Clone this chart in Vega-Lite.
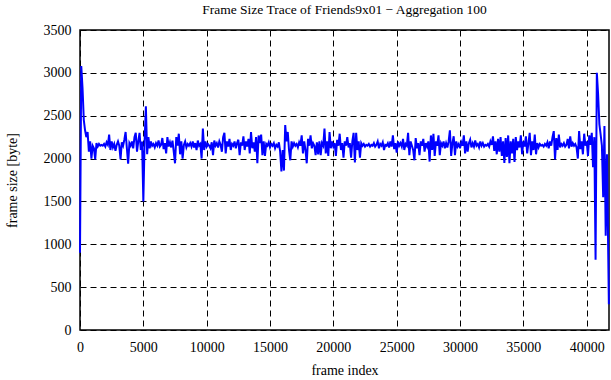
{
  "$schema": "https://vega.github.io/schema/vega-lite/v6.json",
  "width": 529,
  "height": 300,
  "autosize": {"type": "none"},
  "padding": {"left": 80, "top": 30, "right": 2, "bottom": 50},
  "background": "white",
  "config": {
    "font": "Liberation Serif",
    "view": {"stroke": "black", "strokeWidth": 1.5},
    "axis": {
      "labelFont": "Liberation Serif",
      "titleFont": "Liberation Serif",
      "labelFontSize": 14,
      "titleFontSize": 14,
      "labelColor": "black",
      "titleColor": "black",
      "titleFontWeight": "normal",
      "domain": false,
      "ticks": false,
      "grid": true,
      "gridColor": "black",
      "gridDash": [6, 4],
      "gridWidth": 1,
      "gridOpacity": 1
    }
  },
  "title": {
    "text": "Frame Size Trace of Friends9x01 − Aggregation 100",
    "font": "Liberation Serif",
    "fontSize": 13.5,
    "fontWeight": "normal",
    "color": "black",
    "anchor": "middle",
    "offset": 7
  },
  "data": {
    "values": [
{"i":0,"s":900},{"i":100,"s":3080},{"i":200,"s":2820},{"i":300,"s":2450},{"i":400,"s":2330},{"i":500,"s":2250},{"i":600,"s":2310},{"i":700,"s":2080},{"i":800,"s":2200},{"i":900,"s":2000},
{"i":1000,"s":2150},{"i":1100,"s":2120},{"i":1200,"s":1990},{"i":1300,"s":2180},{"i":1400,"s":2140},{"i":1500,"s":2170},{"i":1600,"s":2150},{"i":1700,"s":2160},{"i":1800,"s":2150},{"i":1900,"s":2170},
{"i":2000,"s":2140},{"i":2100,"s":2190},{"i":2200,"s":2160},{"i":2300,"s":2280},{"i":2400,"s":2100},{"i":2500,"s":2200},{"i":2600,"s":2130},{"i":2700,"s":2170},{"i":2800,"s":2090},{"i":2900,"s":2160},
{"i":3000,"s":2200},{"i":3100,"s":2150},{"i":3200,"s":1990},{"i":3300,"s":2190},{"i":3400,"s":2150},{"i":3500,"s":2220},{"i":3600,"s":2310},{"i":3700,"s":2120},{"i":3800,"s":1940},{"i":3900,"s":2180},
{"i":4000,"s":2150},{"i":4100,"s":2200},{"i":4200,"s":2120},{"i":4300,"s":2250},{"i":4400,"s":2300},{"i":4500,"s":2080},{"i":4600,"s":2200},{"i":4700,"s":2300},{"i":4800,"s":2100},{"i":4900,"s":2200},
{"i":5000,"s":1500},{"i":5100,"s":2200},{"i":5200,"s":2610},{"i":5300,"s":2050},{"i":5400,"s":2250},{"i":5500,"s":2120},{"i":5600,"s":2200},{"i":5700,"s":2150},{"i":5800,"s":2170},{"i":5900,"s":2130},
{"i":6000,"s":2180},{"i":6100,"s":2150},{"i":6200,"s":2210},{"i":6300,"s":2140},{"i":6400,"s":2160},{"i":6500,"s":2240},{"i":6600,"s":2110},{"i":6700,"s":2180},{"i":6800,"s":2060},{"i":6900,"s":2250},
{"i":7000,"s":2140},{"i":7100,"s":2190},{"i":7200,"s":2130},{"i":7300,"s":2210},{"i":7400,"s":2080},{"i":7500,"s":1945},{"i":7600,"s":2250},{"i":7700,"s":2150},{"i":7800,"s":2290},{"i":7900,"s":2050},
{"i":8000,"s":2200},{"i":8100,"s":2000},{"i":8200,"s":2160},{"i":8300,"s":2200},{"i":8400,"s":2130},{"i":8500,"s":2170},{"i":8600,"s":2150},{"i":8700,"s":2180},{"i":8800,"s":2140},{"i":8900,"s":2200},
{"i":9000,"s":2130},{"i":9100,"s":2180},{"i":9200,"s":2100},{"i":9300,"s":2210},{"i":9400,"s":2150},{"i":9500,"s":2170},{"i":9600,"s":2000},{"i":9700,"s":2350},{"i":9800,"s":2100},{"i":9900,"s":2200},
{"i":10000,"s":2140},{"i":10100,"s":2170},{"i":10200,"s":2150},{"i":10300,"s":2120},{"i":10400,"s":2190},{"i":10500,"s":2040},{"i":10600,"s":2210},{"i":10700,"s":2150},{"i":10800,"s":2180},{"i":10900,"s":2130},
{"i":11000,"s":2200},{"i":11100,"s":2160},{"i":11200,"s":2080},{"i":11300,"s":2250},{"i":11400,"s":2300},{"i":11500,"s":2060},{"i":11600,"s":2200},{"i":11700,"s":2140},{"i":11800,"s":2230},{"i":11900,"s":2100},
{"i":12000,"s":2170},{"i":12100,"s":2150},{"i":12200,"s":2200},{"i":12300,"s":2120},{"i":12400,"s":2180},{"i":12500,"s":2220},{"i":12600,"s":2040},{"i":12700,"s":2190},{"i":12800,"s":2150},{"i":12900,"s":2260},
{"i":13000,"s":2100},{"i":13100,"s":2200},{"i":13200,"s":2140},{"i":13300,"s":2230},{"i":13400,"s":2060},{"i":13500,"s":2310},{"i":13600,"s":2120},{"i":13700,"s":2190},{"i":13800,"s":2080},{"i":13900,"s":2250},
{"i":14000,"s":1945},{"i":14100,"s":2270},{"i":14200,"s":2180},{"i":14300,"s":2280},{"i":14400,"s":2040},{"i":14500,"s":2200},{"i":14600,"s":2030},{"i":14700,"s":2170},{"i":14800,"s":2150},{"i":14900,"s":2190},
{"i":15000,"s":2130},{"i":15100,"s":2170},{"i":15200,"s":2150},{"i":15300,"s":2180},{"i":15400,"s":2120},{"i":15500,"s":2160},{"i":15600,"s":2140},{"i":15700,"s":2190},{"i":15800,"s":2080},{"i":15900,"s":1850},
{"i":16000,"s":2100},{"i":16100,"s":1860},{"i":16200,"s":2390},{"i":16300,"s":2200},{"i":16400,"s":2310},{"i":16500,"s":2100},{"i":16600,"s":1980},{"i":16700,"s":2200},{"i":16800,"s":2140},{"i":16900,"s":2180},
{"i":17000,"s":2150},{"i":17100,"s":2170},{"i":17200,"s":2130},{"i":17300,"s":2190},{"i":17400,"s":2150},{"i":17500,"s":2270},{"i":17600,"s":2060},{"i":17700,"s":2200},{"i":17800,"s":2100},{"i":17900,"s":1945},
{"i":18000,"s":2230},{"i":18100,"s":2150},{"i":18200,"s":2270},{"i":18300,"s":2120},{"i":18400,"s":2180},{"i":18500,"s":2150},{"i":18600,"s":2040},{"i":18700,"s":2190},{"i":18800,"s":2050},{"i":18900,"s":2200},
{"i":19000,"s":2040},{"i":19100,"s":2180},{"i":19200,"s":2150},{"i":19300,"s":2350},{"i":19400,"s":2060},{"i":19500,"s":2200},{"i":19600,"s":2030},{"i":19700,"s":2310},{"i":19800,"s":2120},{"i":19900,"s":2200},
{"i":20000,"s":2140},{"i":20100,"s":2180},{"i":20200,"s":2030},{"i":20300,"s":2220},{"i":20400,"s":2150},{"i":20500,"s":2290},{"i":20600,"s":2100},{"i":20700,"s":2180},{"i":20800,"s":2010},{"i":20900,"s":2200},
{"i":21000,"s":2150},{"i":21100,"s":2250},{"i":21200,"s":2130},{"i":21300,"s":2180},{"i":21400,"s":2010},{"i":21500,"s":2200},{"i":21600,"s":2300},{"i":21700,"s":1955},{"i":21800,"s":2300},{"i":21900,"s":2100},
{"i":22000,"s":2200},{"i":22100,"s":2010},{"i":22200,"s":2180},{"i":22300,"s":2150},{"i":22400,"s":2170},{"i":22500,"s":2140},{"i":22600,"s":2160},{"i":22700,"s":2150},{"i":22800,"s":2170},{"i":22900,"s":2140},
{"i":23000,"s":2160},{"i":23100,"s":2150},{"i":23200,"s":2180},{"i":23300,"s":2140},{"i":23400,"s":2160},{"i":23500,"s":2200},{"i":23600,"s":2120},{"i":23700,"s":2170},{"i":23800,"s":2150},{"i":23900,"s":2190},
{"i":24000,"s":2100},{"i":24100,"s":2160},{"i":24200,"s":2150},{"i":24300,"s":2180},{"i":24400,"s":2130},{"i":24500,"s":2200},{"i":24600,"s":2140},{"i":24700,"s":2270},{"i":24800,"s":2110},{"i":24900,"s":2180},
{"i":25000,"s":2070},{"i":25100,"s":2200},{"i":25200,"s":2150},{"i":25300,"s":2180},{"i":25400,"s":2140},{"i":25500,"s":2230},{"i":25600,"s":2100},{"i":25700,"s":2170},{"i":25800,"s":2150},{"i":25900,"s":2300},
{"i":26000,"s":2040},{"i":26100,"s":2200},{"i":26200,"s":2150},{"i":26300,"s":2100},{"i":26400,"s":1980},{"i":26500,"s":2240},{"i":26600,"s":2120},{"i":26700,"s":2180},{"i":26800,"s":2040},{"i":26900,"s":2200},
{"i":27000,"s":2150},{"i":27100,"s":2230},{"i":27200,"s":2080},{"i":27300,"s":2180},{"i":27400,"s":2140},{"i":27500,"s":2200},{"i":27600,"s":1965},{"i":27700,"s":2270},{"i":27800,"s":2100},{"i":27900,"s":2290},
{"i":28000,"s":2030},{"i":28100,"s":2200},{"i":28200,"s":2150},{"i":28300,"s":2270},{"i":28400,"s":2040},{"i":28500,"s":2180},{"i":28600,"s":2150},{"i":28700,"s":2200},{"i":28800,"s":2120},{"i":28900,"s":2180},
{"i":29000,"s":2130},{"i":29100,"s":2200},{"i":29200,"s":2330},{"i":29300,"s":2030},{"i":29400,"s":2180},{"i":29500,"s":2260},{"i":29600,"s":2040},{"i":29700,"s":2200},{"i":29800,"s":2140},{"i":29900,"s":2170},
{"i":30000,"s":2120},{"i":30100,"s":2190},{"i":30200,"s":2150},{"i":30300,"s":2270},{"i":30400,"s":2060},{"i":30500,"s":2200},{"i":30600,"s":2080},{"i":30700,"s":2180},{"i":30800,"s":2220},{"i":30900,"s":2130},
{"i":31000,"s":2180},{"i":31100,"s":2140},{"i":31200,"s":2210},{"i":31300,"s":2150},{"i":31400,"s":2170},{"i":31500,"s":2130},{"i":31600,"s":2200},{"i":31700,"s":2150},{"i":31800,"s":2180},{"i":31900,"s":2140},
{"i":32000,"s":2160},{"i":32100,"s":2150},{"i":32200,"s":2170},{"i":32300,"s":2140},{"i":32400,"s":2200},{"i":32500,"s":2160},{"i":32600,"s":2260},{"i":32700,"s":2090},{"i":32800,"s":2200},{"i":32900,"s":2050},
{"i":33000,"s":2230},{"i":33100,"s":2080},{"i":33200,"s":2250},{"i":33300,"s":2030},{"i":33400,"s":2200},{"i":33500,"s":1950},{"i":33600,"s":2240},{"i":33700,"s":2020},{"i":33800,"s":2270},{"i":33900,"s":1945},
{"i":34000,"s":2200},{"i":34100,"s":2060},{"i":34200,"s":2230},{"i":34300,"s":1960},{"i":34400,"s":2250},{"i":34500,"s":2100},{"i":34600,"s":2200},{"i":34700,"s":2130},{"i":34800,"s":2270},{"i":34900,"s":2050},
{"i":35000,"s":2200},{"i":35100,"s":2140},{"i":35200,"s":2260},{"i":35300,"s":2060},{"i":35400,"s":2180},{"i":35500,"s":2300},{"i":35600,"s":2040},{"i":35700,"s":2200},{"i":35800,"s":2100},{"i":35900,"s":2280},
{"i":36000,"s":2050},{"i":36100,"s":2180},{"i":36200,"s":2130},{"i":36300,"s":2170},{"i":36400,"s":2150},{"i":36500,"s":2160},{"i":36600,"s":2140},{"i":36700,"s":2170},{"i":36800,"s":2150},{"i":36900,"s":2190},
{"i":37000,"s":2120},{"i":37100,"s":2200},{"i":37200,"s":2150},{"i":37300,"s":2250},{"i":37400,"s":2320},{"i":37500,"s":1990},{"i":37600,"s":2240},{"i":37700,"s":2100},{"i":37800,"s":2280},{"i":37900,"s":2130},
{"i":38000,"s":2170},{"i":38100,"s":2150},{"i":38200,"s":2180},{"i":38300,"s":2140},{"i":38400,"s":2160},{"i":38500,"s":2230},{"i":38600,"s":2120},{"i":38700,"s":2260},{"i":38800,"s":2140},{"i":38900,"s":2180},
{"i":39000,"s":2150},{"i":39100,"s":2170},{"i":39200,"s":2130},{"i":39300,"s":2000},{"i":39400,"s":2320},{"i":39500,"s":2110},{"i":39600,"s":2200},{"i":39700,"s":2050},{"i":39800,"s":2290},{"i":39900,"s":2150},
{"i":40000,"s":2200},{"i":40100,"s":2030},{"i":40200,"s":2270},{"i":40300,"s":2160},{"i":40400,"s":2300},{"i":40500,"s":1900},{"i":40600,"s":2250},{"i":40700,"s":820},{"i":40800,"s":3000},{"i":40900,"s":2750},
{"i":41000,"s":2400},{"i":41100,"s":2280},{"i":41200,"s":2150},{"i":41300,"s":1550},{"i":41400,"s":2380},{"i":41500,"s":1100},{"i":41600,"s":2050},{"i":41750,"s":300}
    ]
  },
  "mark": {"type": "line", "color": "#0000ff", "strokeWidth": 2, "clip": false},
  "encoding": {
    "x": {
      "field": "i",
      "type": "quantitative",
      "title": "frame index",
      "scale": {"domain": [0, 41760], "nice": false, "zero": false},
      "axis": {"values": [0, 5000, 10000, 15000, 20000, 25000, 30000, 35000, 40000], "format": "d", "labelPadding": 10, "titlePadding": 9, "labelFlush": false}
    },
    "y": {
      "field": "s",
      "type": "quantitative",
      "title": "frame size [byte]",
      "scale": {"domain": [0, 3500], "nice": false},
      "axis": {"values": [0, 500, 1000, 1500, 2000, 2500, 3000, 3500], "format": "d", "labelPadding": 9, "titlePadding": 24}
    }
  }
}
